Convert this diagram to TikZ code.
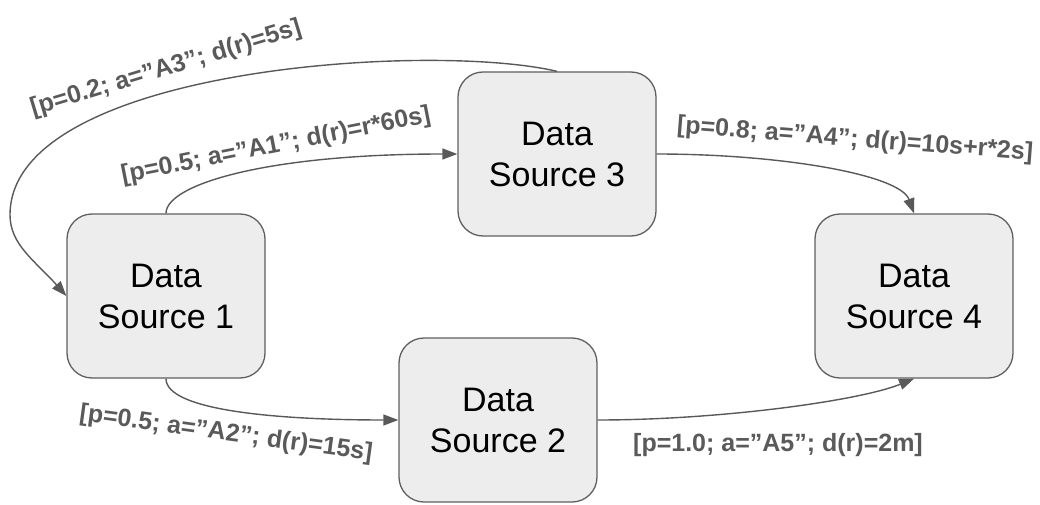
\documentclass[tikz,border=0pt]{standalone}
\usepackage{fontspec}
\setmainfont{Liberation Sans}
\usetikzlibrary{arrows.meta}
\definecolor{edgegray}{RGB}{89,89,89}
\definecolor{boxfill}{RGB}{237,237,237}
\definecolor{boxline}{RGB}{95,95,95}
\definecolor{labelgray}{RGB}{90,90,90}

\begin{document}
\begin{tikzpicture}[x=1pt,y=-1pt,
  source/.style={draw=boxline, line width=1.3pt, fill=boxfill,
    rounded corners=25pt, minimum width=198pt, minimum height=164pt,
    align=center, inner sep=0pt, font=\fontsize{34}{41}\selectfont},
  flow/.style={draw=edgegray, line width=1.4pt,
    -{Triangle[length=15pt,width=11pt]}},
  tag/.style={text=labelgray, inner sep=0pt,
    font=\bfseries\fontsize{25}{30}\selectfont}]
\useasboundingbox (0,0) rectangle (1040,505);

% data sources
\node[source] (s1) at (166,296) {Data\\Source 1};
\node[source] (s3) at (557,154) {Data\\Source 3};
\node[source] (s2) at (498,420) {Data\\Source 2};
\node[source] (s4) at (914,296) {Data\\Source 4};

% turning point of the long loop back to source 1
\coordinate (loopleft) at (10,215);

% flows between sources
\draw[flow] (s1.north) .. controls +(0,-29) and +(-190,0) .. (s3.west);
\draw[flow] (s3.north) .. controls +(-127,-30) and +(0,-147) .. (loopleft)
            .. controls +(0,30) and +(-30,-34) .. (s1.west);
\draw[flow] (s3.east) .. controls +(123,0) and +(-14,-39) .. (s4.north);
\draw[flow] (s1.south) .. controls +(0,32) and +(-120,0) .. (s2.west);
\draw[flow] (s2.east) .. controls +(123,0) and +(-54,22) .. (s4.south);

% flow parameters
\node[tag, rotate=16.8] (l3) at (166,69) {[p=0.2; a=”A3”; d(r)=5s]};
\node[tag, rotate=11.2] (l1) at (276,146) {[p=0.5; a=”A1”; d(r)=r*60s]};
\node[tag, rotate=-4.4] (l4) at (855,140) {[p=0.8; a=”A4”; d(r)=10s+r*2s]};
\node[tag, rotate=-7.8] (l2) at (226,434) {[p=0.5; a=”A2”; d(r)=15s]};
\node[tag] (l5) at (778,445) {[p=1.0; a=”A5”; d(r)=2m]};
\end{tikzpicture}
\end{document}
